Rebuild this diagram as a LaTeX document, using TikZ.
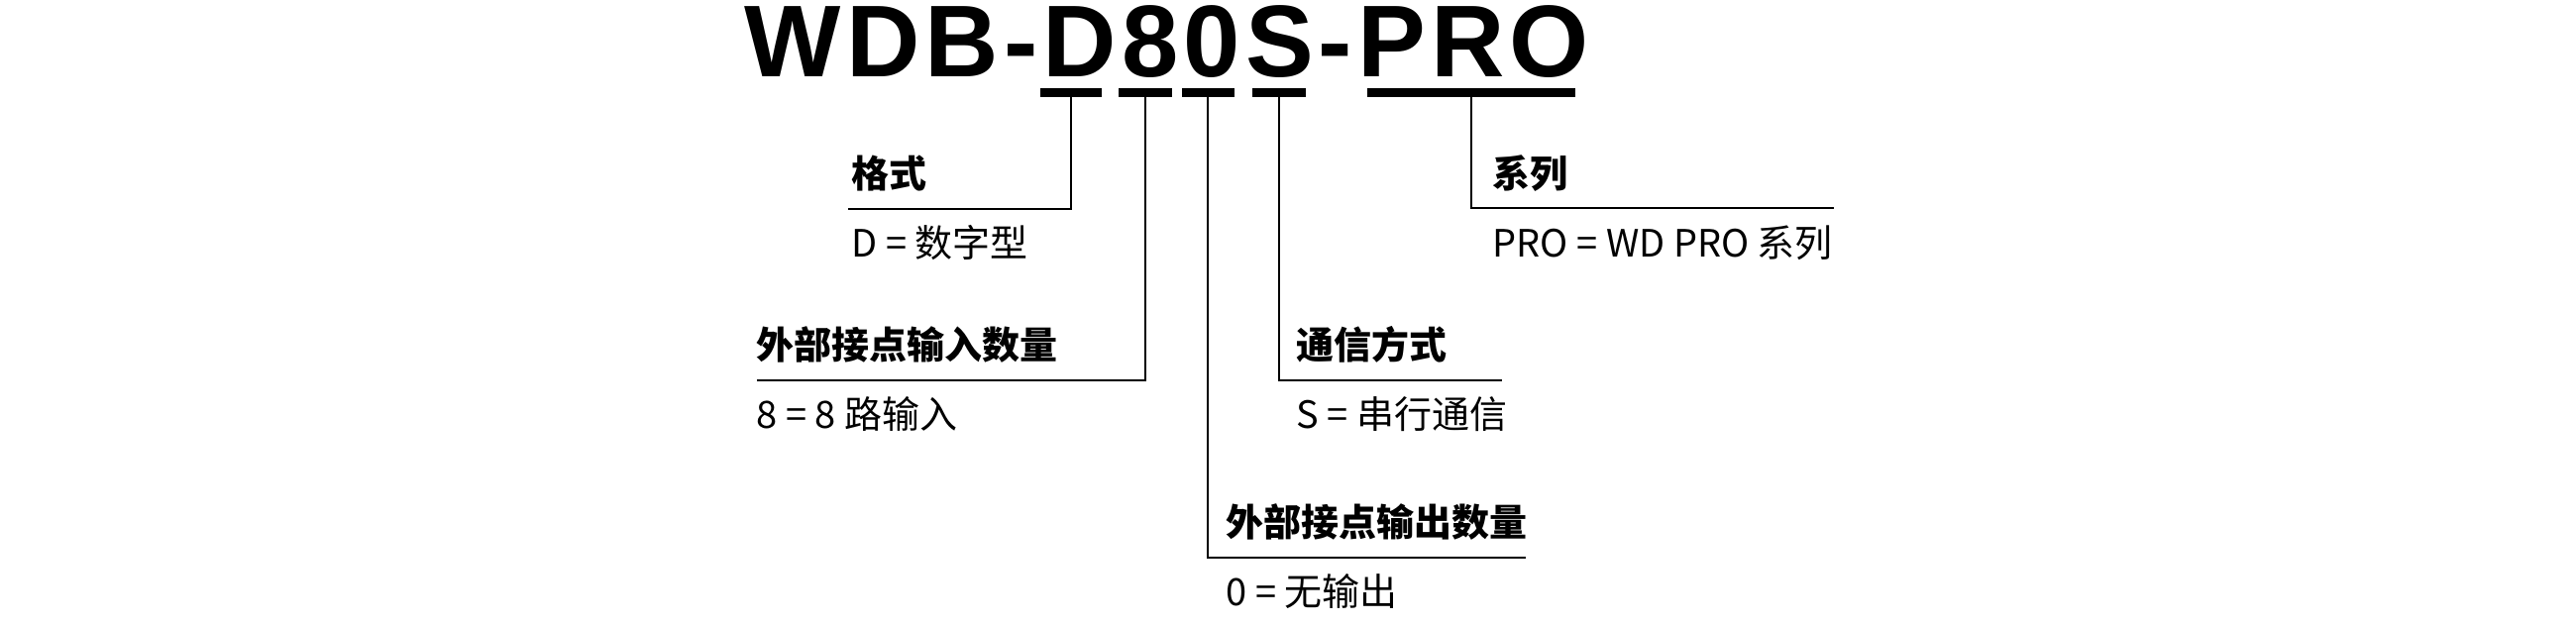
\documentclass[tikz,border=0pt]{standalone}
\usepackage{fontspec}
\newfontfamily\titlefont[LetterSpace=5]{Liberation Sans Bold}
\newfontfamily\cjk{Noto Sans CJK SC}
\tikzset{
  x=0.01cm, y=-0.01cm,
  ttl/.style={inner sep=0pt, anchor=base west, font=\titlefont\fontsize{29.3pt}{30pt}\selectfont},
  bar/.style={fill=black, inner sep=0pt, minimum height=0.09cm},
  conn/.style={draw=black, line width=0.6pt},
  lab/.style={inner sep=0pt, anchor=base west, font=\cjk\bfseries\fontsize{10.8pt}{12pt}\selectfont},
  val/.style={inner sep=0pt, anchor=base west, font=\cjk\fontsize{10.8pt}{12pt}\selectfont},
}
\begin{document}
\begin{tikzpicture}
\useasboundingbox (0,0) rectangle (2600,630);
\node[ttl] (title) at (751,77) {WDB-D80S-PRO};
% bars
\node[bar, minimum width=0.62cm] (bD) at (1081,93) {};
\node[bar, minimum width=0.54cm] (b8) at (1156,93) {};
\node[bar, minimum width=0.53cm] (b0) at (1219,93) {};
\node[bar, minimum width=0.54cm] (bS) at (1291,93) {};
\node[bar, minimum width=2.10cm] (bP) at (1485,93) {};
% line ends
\coordinate (eD) at (856,211);
\coordinate (e8) at (764,384);
\coordinate (e0) at (1540,563);
\coordinate (eS) at (1516,384);
\coordinate (eP) at (1851,210);
\draw[conn] (bD.south) |- (eD);
\draw[conn] (b8.south) |- (e8);
\draw[conn] (b0.south) |- (e0);
\draw[conn] (bS.south) |- (eS);
\draw[conn] (bP.south) |- (eP);
% labels
\node[lab] (lD) at (859,189) {格式};
\node[val] (vD) at (859,259) {D = 数字型};
\node[lab] (l8) at (763,362) {外部接点输入数量};
\node[val] (v8) at (763,432) {8 = 8 路输入};
\node[lab] (lS) at (1308,362) {通信方式};
\node[val] (vS) at (1308,432) {S = 串行通信};
\node[lab] (l0) at (1237,541) {外部接点输出数量};
\node[val] (v0) at (1237,611) {0 = 无输出};
\node[lab] (lP) at (1506,189) {系列};
\node[val] (vP) at (1506,259) {PRO = WD PRO 系列};
\end{tikzpicture}
\end{document}
